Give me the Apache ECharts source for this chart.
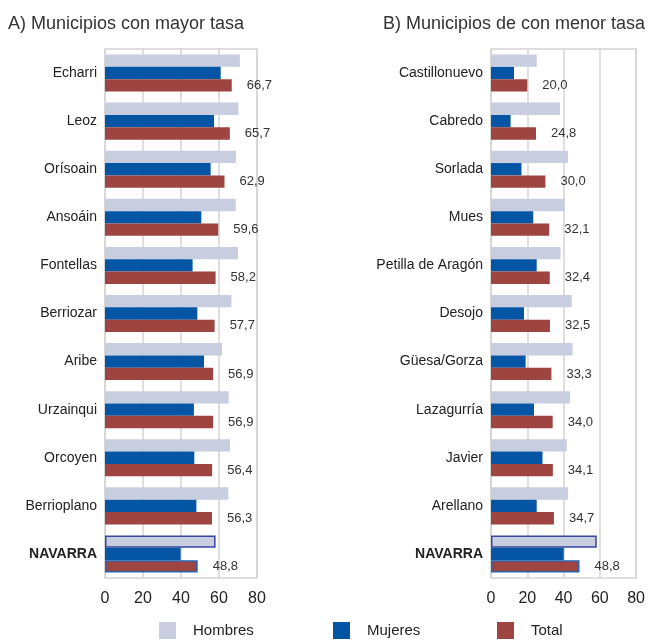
<!DOCTYPE html>
<html>
<head>
<meta charset="utf-8">
<script src="https://cdn.jsdelivr.net/npm/echarts@6/dist/echarts.min.js"></script>
<style>
  html, body { margin: 0; padding: 0; background: #fff; }
  #main { width: 648px; height: 640px; }
</style>
</head>
<body>
<div id="main"></div>
<script>
// A) mayor tasa
const catsA = ['Echarri', 'Leoz', 'Orísoain', 'Ansoáin', 'Fontellas', 'Berriozar', 'Aribe', 'Urzainqui', 'Orcoyen', 'Berrioplano', 'NAVARRA'];
const hombresA = [71.0, 70.2, 68.9, 68.8, 70.0, 66.5, 61.6, 65.1, 65.8, 64.9, 58.2];
const mujeresA = [60.9, 57.4, 55.6, 50.7, 46.1, 48.6, 52.1, 46.8, 47.0, 48.1, 39.8];
const totalA = [66.7, 65.7, 62.9, 59.6, 58.2, 57.7, 56.9, 56.9, 56.4, 56.3, 48.8];

// B) menor tasa
const catsB = ['Castillonuevo', 'Cabredo', 'Sorlada', 'Mues', 'Petilla de Aragón', 'Desojo', 'Güesa/Gorza', 'Lazagurría', 'Javier', 'Arellano', 'NAVARRA'];
const hombresB = [25.2, 38.0, 42.4, 40.6, 38.3, 44.5, 45.0, 43.6, 41.8, 42.5, 58.3];
const mujeresB = [12.7, 10.8, 16.8, 23.3, 25.2, 18.2, 19.1, 23.7, 28.4, 25.2, 40.1];
const totalB = [20.0, 24.8, 30.0, 32.1, 32.4, 32.5, 33.3, 34.0, 34.1, 34.7, 48.8];

const xTicks = [0, 20, 40, 60, 80];

const colors = { Hombres: '#c8cee0', Mujeres: '#0455a4', Total: '#9e4541' };
const sans = "'Liberation Sans', Arial, sans-serif";

// NAVARRA lleva borde
function withBorder(values, cats, border) {
  return values.map((v, i) => cats[i] === 'NAVARRA'
    ? { value: v, itemStyle: { borderColor: border, borderWidth: 1.5 } }
    : v);
}

const grids = [
  { left: 105, width: 152, top: 49, height: 529 },
  { left: 491, width: 151, top: 49, height: 529 }
];

function xAxis(idx) {
  return {
    gridIndex: idx, type: 'value', min: 0, max: 80, interval: 20,
    axisLine: { show: false }, axisTick: { show: false },
    splitLine: { show: true, lineStyle: { color: '#d4d4d4', width: 1.5 } },
    axisLabel: {
      margin: 13, color: '#222', fontSize: 16, fontFamily: sans,
      formatter: v => xTicks.includes(v) ? String(v) : ''
    }
  };
}

function yAxis(idx, cats) {
  return {
    gridIndex: idx, type: 'category', data: cats, inverse: true,
    axisLine: { show: false }, axisTick: { show: false },
    axisLabel: {
      margin: 8, color: '#222', fontSize: 14, fontFamily: sans,
      formatter: v => v === 'NAVARRA' ? '{b|' + v + '}' : v,
      rich: { b: { fontWeight: 'bold', fontSize: 14, fontFamily: sans, color: '#222' } }
    }
  };
}

function bars(idx, h, m, t, cats) {
  const common = { type: 'bar', xAxisIndex: idx, yAxisIndex: idx, barGap: '0%', barCategoryGap: '23%' };
  return [
    Object.assign({}, common, { name: 'Hombres', data: withBorder(h, cats, '#3646a0'), itemStyle: { color: colors.Hombres } }),
    Object.assign({}, common, { name: 'Mujeres', data: m, itemStyle: { color: colors.Mujeres } }),
    Object.assign({}, common, {
      name: 'Total', data: withBorder(t, cats, '#2a62b0'), itemStyle: { color: colors.Total },
      label: {
        show: true, position: 'right', distance: 15, color: '#333', fontSize: 13, fontFamily: sans,
        formatter: p => p.value.toFixed(1).replace('.', ',')
      }
    })
  ];
}

function legendAt(name, left) {
  return {
    data: [name], left: left, top: 622, padding: 0, itemWidth: 17, itemHeight: 17, icon: 'rect',
    selectedMode: false,
    textStyle: { color: '#222', fontSize: 15, fontFamily: sans, padding: [0, 0, 0, 12] }
  };
}

const option = {
  animation: false,
  color: [colors.Hombres, colors.Mujeres, colors.Total],
  title: [
    { text: 'A) Municipios con mayor tasa', left: 3, top: 10,
      textStyle: { fontSize: 18, fontWeight: 'normal', color: '#333', fontFamily: sans } },
    { text: 'B) Municipios de con menor tasa', left: 378, top: 10,
      textStyle: { fontSize: 18, fontWeight: 'normal', color: '#333', fontFamily: sans } }
  ],
  legend: [legendAt('Hombres', 159), legendAt('Mujeres', 333), legendAt('Total', 497)],
  grid: grids.map(g => Object.assign({ show: true, borderColor: '#d4d4d4', borderWidth: 1.5, backgroundColor: 'transparent' }, g)),
  xAxis: [xAxis(0), xAxis(1)],
  yAxis: [yAxis(0, catsA), yAxis(1, catsB)],
  series: bars(0, hombresA, mujeresA, totalA, catsA).concat(bars(1, hombresB, mujeresB, totalB, catsB))
};

const myChart = echarts.init(document.getElementById('main'));
myChart.setOption(option);
</script>
</body>
</html>
